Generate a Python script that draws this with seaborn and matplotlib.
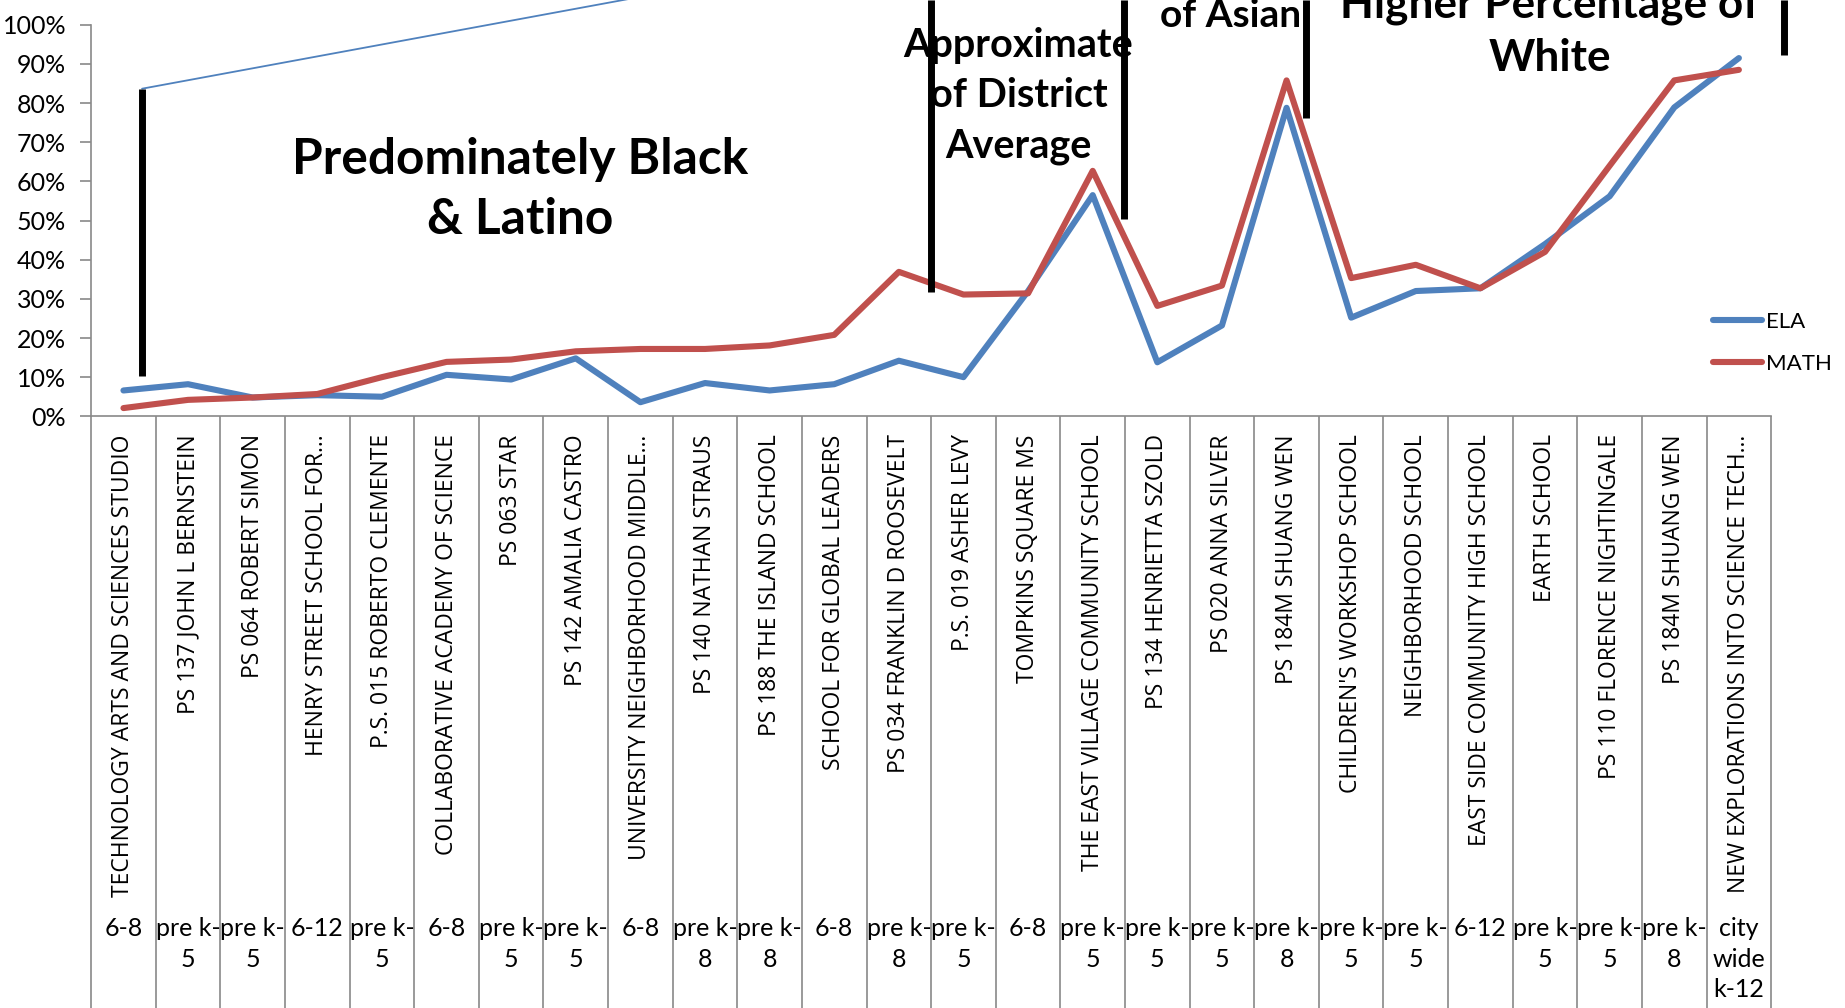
import numpy as np
import pandas as pd
import seaborn as sns
import matplotlib.pyplot as plt
from matplotlib.lines import Line2D
from matplotlib.transforms import blended_transform_factory

# school names (first level of the category axis)
schools = [
    "TECHNOLOGY ARTS AND SCIENCES STUDIO", "PS 137 JOHN L BERNSTEIN", "PS 064 ROBERT SIMON",
    "HENRY STREET SCHOOL FOR...", "P.S. 015 ROBERTO CLEMENTE", "COLLABORATIVE ACADEMY OF SCIENCE",
    "PS 063 STAR", "PS 142 AMALIA CASTRO", "UNIVERSITY NEIGHBORHOOD MIDDLE...",
    "PS 140 NATHAN STRAUS", "PS 188 THE ISLAND SCHOOL", "SCHOOL FOR GLOBAL LEADERS",
    "PS 034 FRANKLIN D ROOSEVELT", "P.S. 019 ASHER LEVY", "TOMPKINS SQUARE MS",
    "THE EAST VILLAGE COMMUNITY SCHOOL", "PS 134 HENRIETTA SZOLD", "PS 020 ANNA SILVER",
    "PS 184M SHUANG WEN", "CHILDREN'S WORKSHOP SCHOOL", "NEIGHBORHOOD SCHOOL",
    "EAST SIDE COMMUNITY HIGH SCHOOL", "EARTH SCHOOL", "PS 110 FLORENCE NIGHTINGALE",
    "PS 184M SHUANG WEN", "NEW EXPLORATIONS INTO SCIENCE TECH...",
]
# grade span (second level of the category axis)
grades = [
    "6-8", "pre k-\n5", "pre k-\n5", "6-12", "pre k-\n5", "6-8", "pre k-\n5", "pre k-\n5",
    "6-8", "pre k-\n8", "pre k-\n8", "6-8", "pre k-\n8", "pre k-\n5", "6-8", "pre k-\n5",
    "pre k-\n5", "pre k-\n5", "pre k-\n8", "pre k-\n5", "pre k-\n5", "6-12", "pre k-\n5",
    "pre k-\n5", "pre k-\n8", "city\nwide\nk-12",
]
# percent proficient
ela = [6.6, 8.2, 4.8, 5.4, 5.0, 10.6, 9.4, 14.8, 3.6, 8.5, 6.6, 8.2, 14.2, 10.0, 32.0,
       56.5, 13.8, 23.2, 78.8, 25.2, 32.0, 32.7, 44.0, 56.2, 78.9, 91.5]
math = [2.1, 4.2, 4.8, 5.7, 10.0, 13.9, 14.5, 16.6, 17.2, 17.2, 18.1, 20.8, 36.9, 31.1, 31.4,
        62.7, 28.2, 33.4, 85.8, 35.3, 38.7, 32.7, 42.0, 64.0, 85.8, 88.5]

n = len(schools)
df = pd.DataFrame({
    "pos": list(range(n)) * 2,
    "score": ela + math,
    "subject": ["ELA"] * n + ["MATH"] * n,
})

sns.set_style("white")
plt.rcParams['font.family'] = ['Lato', 'DejaVu Sans']
plt.rcParams['text.color'] = 'black'
plt.rcParams['xtick.color'] = 'black'
plt.rcParams['ytick.color'] = 'black'

gray = "#898989"
colors = {"ELA": "#4F81BD", "MATH": "#C0504D"}

fig = plt.figure(figsize=(18.45, 10.08), dpi=100)
ax = fig.add_axes([0.0494, 0.587, 0.9106, 0.3884])
sns.lineplot(data=df, x="pos", y="score", hue="subject", palette=colors,
             linewidth=4.4, sort=False, legend=False, ax=ax)

ax.set_xlim(-0.5, n - 0.5)
ax.set_ylim(0, 100)
ax.set_xlabel("")
ax.set_ylabel("")
ax.set_yticks(range(0, 101, 10))
ax.set_yticklabels([f"{v}%" for v in range(0, 101, 10)], fontsize=18)

ax.set_xticks(range(n))
ax.set_xticklabels(schools, rotation=90, fontsize=16.5, family=["Open Sans", "DejaVu Sans"])
ax.set_xticks(np.arange(-0.5, n, 1), minor=True)
ax.tick_params(axis="x", which="major", bottom=True, length=0, pad=13, labelcolor="black")
ax.tick_params(axis="x", which="minor", bottom=True, length=450, color=gray, width=1.2,
               direction="out")
ax.tick_params(axis="y", left=True, length=8, color=gray, width=1.2, direction="out", pad=10,
               labelcolor="black")

for side in ["top", "right"]:
    ax.spines[side].set_visible(False)
for side in ["left", "bottom"]:
    ax.spines[side].set_color(gray)
    ax.spines[side].set_linewidth(1.2)

trans = blended_transform_factory(ax.transData, ax.transAxes)
for i, g in enumerate(grades):
    ax.text(i, -1.28, g, transform=trans, ha="center", va="top", fontsize=18,
            linespacing=1.38, color="black")

handles = [Line2D([], [], color=colors[k], lw=4.4, solid_capstyle="round") for k in colors]
fig.legend(handles, list(colors), loc="center left", bbox_to_anchor=(0.9225, 0.66),
           frameon=False, fontsize=16, handlelength=2.2, handletextpad=0.2,
           labelspacing=1.0, borderpad=0, labelcolor="black")

# overlay annotations
fig.text(0.282, 0.812, "Predominately Black\n& Latino", ha="center", va="center",
         fontsize=35.7, fontweight="bold", linespacing=1.43, color="black")
fig.text(0.552, 0.905, "Approximate\nof District\nAverage", ha="center", va="center",
         fontsize=28.5, fontweight="bold", linespacing=1.45, color="black")
fig.text(0.667, 0.985, "of Asian", ha="center", va="center",
         fontsize=28, fontweight="bold", color="black")
fig.text(0.840, 0.969, "Higher Percentage of\nWhite", ha="center", va="center",
         fontsize=31.8, fontweight="bold", linespacing=1.4, color="black")

fig.add_artist(Line2D([0.077, 0.40], [0.912, 1.021], color="#4F81BD", lw=1.3))
for x, y0, y1 in [(0.077, 0.627, 0.912), (0.5048, 0.710, 1.0), (0.6094, 0.783, 1.0),
                  (0.708, 0.883, 1.0), (0.9667, 0.945, 1.0)]:
    fig.add_artist(Line2D([x, x], [y0, y1], color="black", lw=5, solid_capstyle="butt"))

fig.savefig("out.png", dpi=100)
